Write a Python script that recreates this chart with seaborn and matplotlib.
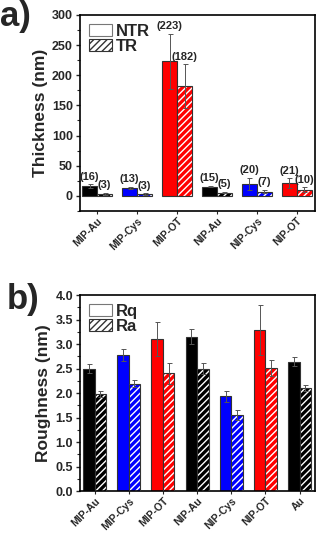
import pandas as pd
import seaborn as sns
import matplotlib.pyplot as plt
from matplotlib.patches import Patch, Rectangle
from matplotlib.ticker import AutoMinorLocator

# panel a) data
thick_samples = ["MIP-Au", "MIP-Cys", "MIP-OT", "NIP-Au", "NIP-Cys", "NIP-OT"]
thick_ntr = [16, 13, 223, 15, 20, 21]
thick_ntr_err = [3, 1.5, 46, 1, 10, 8]
thick_tr = [3, 3, 182, 5, 7, 10]
thick_tr_err = [2, 1, 36, 1, 3, 4]
thick_labels_ntr = ["(16)", "(13)", "(223)", "(15)", "(20)", "(21)"]
thick_labels_tr = ["(3)", "(3)", "(182)", "(5)", "(7)", "(10)"]
thick_colors = ["black", "blue", "red", "black", "blue", "red"]

# panel b) data
rough_samples = ["MIP-Au", "MIP-Cys", "MIP-OT", "NIP-Au", "NIP-Cys", "NIP-OT", "Au"]
rough_rq = [2.50, 2.78, 3.10, 3.15, 1.93, 3.28, 2.64]
rough_rq_err = [0.10, 0.12, 0.35, 0.15, 0.12, 0.51, 0.09]
rough_ra = [1.98, 2.19, 2.40, 2.50, 1.55, 2.51, 2.10]
rough_ra_err = [0.06, 0.07, 0.22, 0.12, 0.10, 0.16, 0.06]
rough_colors = ["black", "blue", "red", "black", "blue", "red", "black"]

sns.set_style("ticks")
plt.rcParams["font.family"] = ["Liberation Sans", "DejaVu Sans"]
plt.rcParams["font.weight"] = "bold"
plt.rcParams["hatch.linewidth"] = 1.0


def draw_panel(ax, samples, v1, e1, v2, e2, colors, names, width):
    df = pd.DataFrame({
        "sample": samples * 2,
        "value": v1 + v2,
        "series": [names[0]] * len(samples) + [names[1]] * len(samples),
    })
    sns.barplot(data=df, x="sample", y="value", hue="series", order=samples,
                hue_order=names, errorbar=None, width=width, ax=ax,
                legend=False, saturation=1)
    n = len(samples)
    bars = ax.patches[:2 * n]
    errs = e1 + e2
    vals = v1 + v2
    for i, p in enumerate(bars):
        c = colors[i % n]
        cx = p.get_x() + p.get_width() / 2
        p.set_facecolor(c)
        if i < n:
            p.set_edgecolor("#333333")
            p.set_linewidth(0.8)
        else:
            p.set_edgecolor("white")
            p.set_hatch("/////")
            p.set_linewidth(0)
            ax.add_patch(Rectangle((p.get_x(), p.get_y()), p.get_width(),
                                   p.get_height(), fill=False,
                                   edgecolor="#333333", linewidth=0.8, zorder=3))
        ax.errorbar(cx, vals[i], yerr=errs[i], color="#555555", lw=0.7,
                    capsize=1.8, capthick=0.7, zorder=4)
    return bars


fig = plt.figure(figsize=(3.21, 5.34), dpi=100)
ax1 = fig.add_axes([0.249, 0.605, 0.732, 0.367])
ax2 = fig.add_axes([0.249, 0.0805, 0.732, 0.367])

bars1 = draw_panel(ax1, thick_samples, thick_ntr, thick_ntr_err, thick_tr,
                   thick_tr_err, thick_colors, ["NTR", "TR"], 0.75)
lab = thick_labels_ntr + thick_labels_tr
tops = [v + e for v, e in zip(thick_ntr + thick_tr, thick_ntr_err + thick_tr_err)]
for i, p in enumerate(bars1):
    ax1.annotate(lab[i], (p.get_x() + p.get_width() / 2, tops[i]),
                 xytext=(0, 2), textcoords="offset points", ha="center",
                 va="bottom", fontsize=8, fontweight="bold")

draw_panel(ax2, rough_samples, rough_rq, rough_rq_err, rough_ra,
           rough_ra_err, rough_colors, ["Rq", "Ra"], 0.67)

ax1.set_ylim(-25, 300)
ax1.set_yticks([0, 50, 100, 150, 200, 250, 300])
ax1.set_xlim(-0.43, 5.45)
ax1.set_ylabel("Thickness (nm)", fontsize=12.5, fontweight="bold", labelpad=3)
r_ticks = [0, 0.5, 1.0, 1.5, 2.0, 2.5, 3.0, 3.5, 4.0]
ax2.set_ylim(0, 4.0)
ax2.set_yticks(r_ticks)
ax2.set_yticklabels([f"{t:.1f}" for t in r_ticks])
ax2.set_xlim(-0.43, 6.45)
ax2.set_ylabel("Roughness (nm)", fontsize=12.5, fontweight="bold", labelpad=3)

for ax, names in [(ax1, ["NTR", "TR"]), (ax2, ["Rq", "Ra"])]:
    ax.set_xlabel("")
    for s in ax.spines.values():
        s.set_visible(True)
        s.set_linewidth(1.2)
        s.set_color("black")
    ax.yaxis.set_minor_locator(AutoMinorLocator(2))
    ax.tick_params(axis="y", which="major", labelsize=9, length=3, width=1, pad=2)
    ax.tick_params(axis="y", which="minor", length=2, width=0.8)
    ax.tick_params(axis="x", labelsize=7.5, length=2.5, width=0.8, pad=1)
    for t in ax.get_xticklabels():
        t.set_rotation(45)
        t.set_ha("right")
        t.set_rotation_mode("anchor")
        t.set_fontweight("bold")
    for t in ax.get_yticklabels():
        t.set_fontweight("bold")
    handles = [Patch(facecolor="white", edgecolor="#777777", linewidth=0.8),
               Patch(facecolor="white", edgecolor="#333333", hatch="/////",
                     linewidth=0.8)]
    leg = ax.legend(handles, names, loc="upper left", frameon=False,
                    fontsize=12, handlelength=1.4, handleheight=0.75,
                    handletextpad=0.2, labelspacing=0.0,
                    borderaxespad=0.3, borderpad=0.25)
    for t in leg.get_texts():
        t.set_fontweight("bold")

fig.text(0.0, 1.0, "a)", fontsize=25, fontweight="bold", va="top")
fig.text(0.02, 0.47, "b)", fontsize=25, fontweight="bold", va="top")

fig.savefig("out.png", dpi=100)
